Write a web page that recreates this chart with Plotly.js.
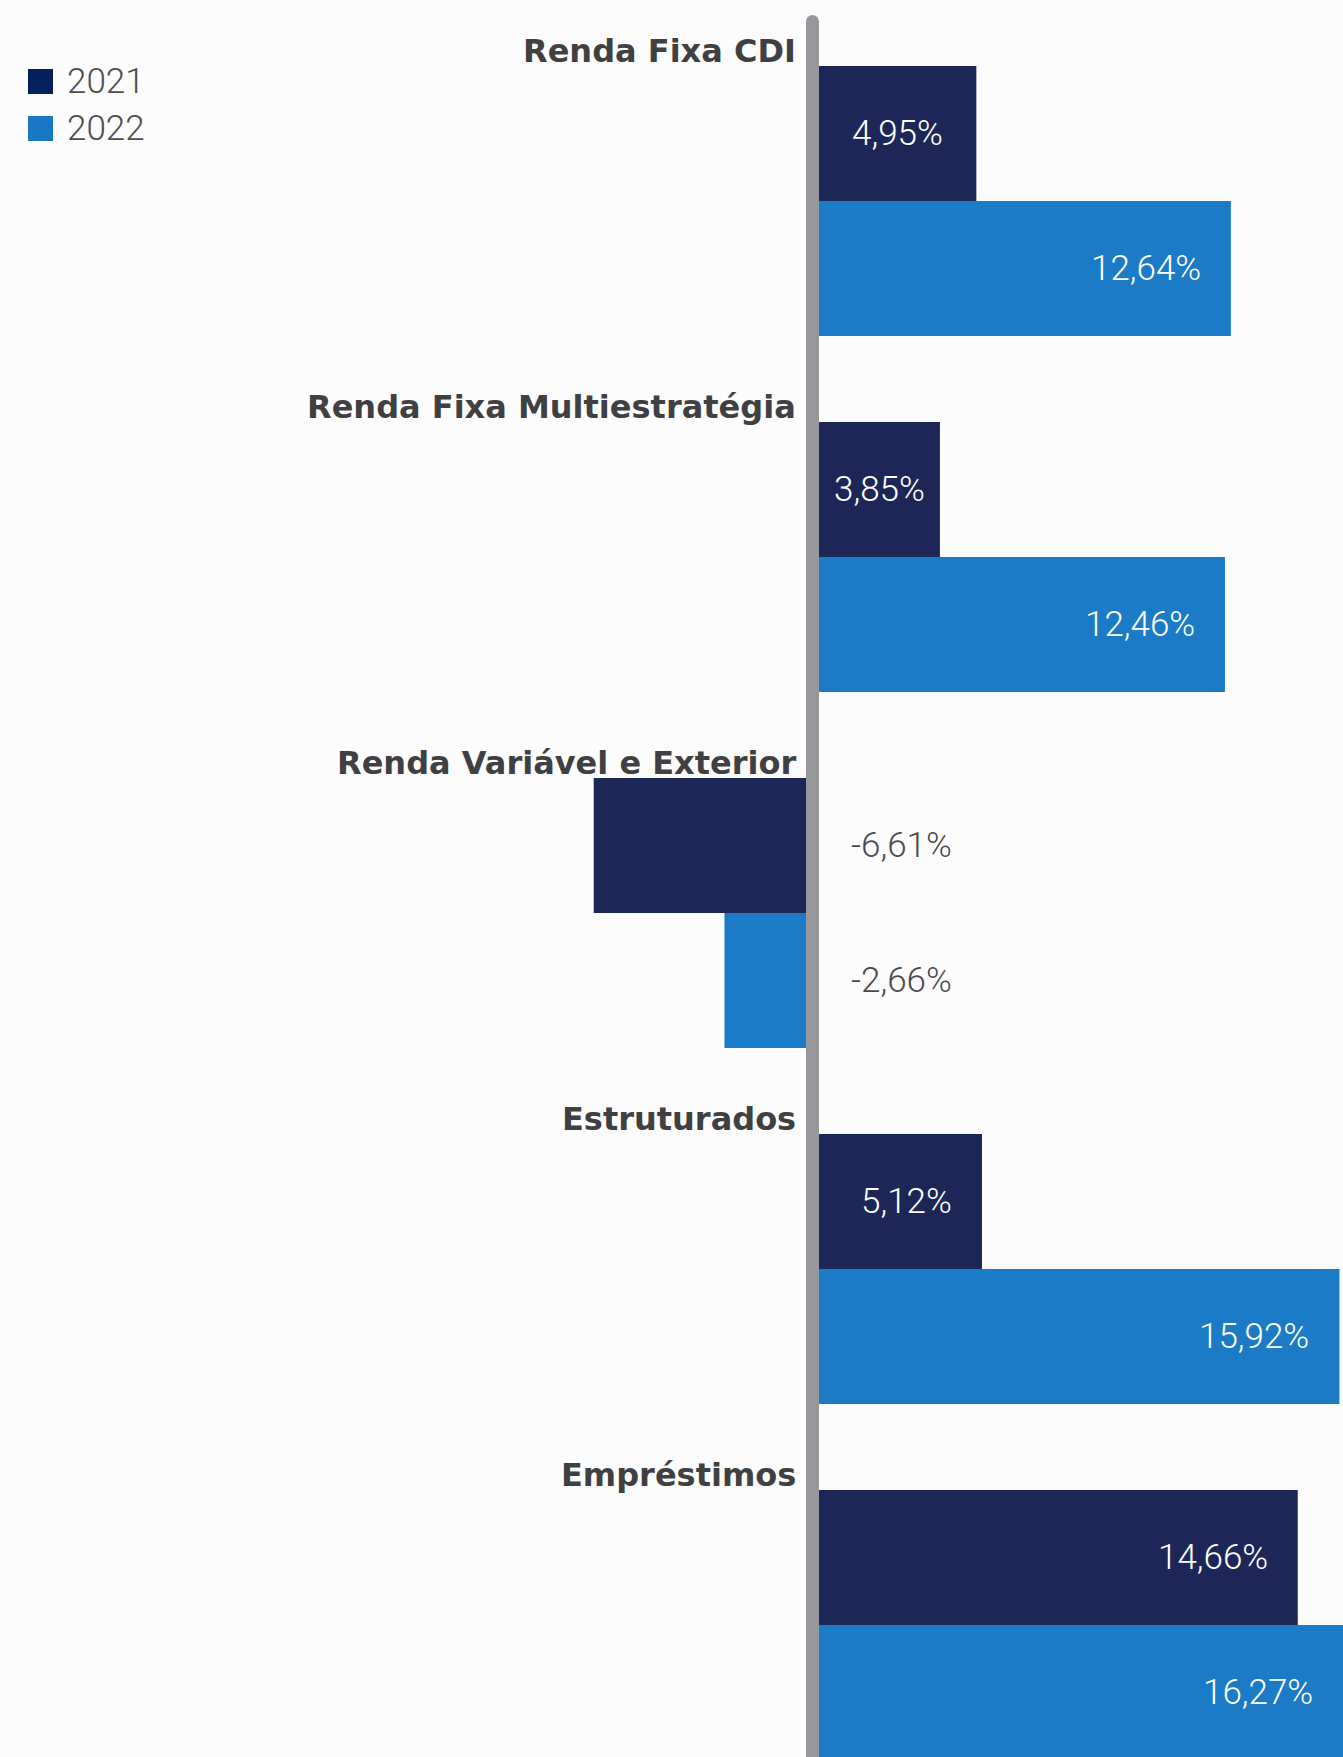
<!DOCTYPE html>
<html>
<head>
<meta charset="utf-8">
<script src="https://cdn.plot.ly/plotly-3.0.1.min.js"></script>
<style>
  html, body { margin: 0; padding: 0; background: #fcfcfc; }
  #chart { width: 1343px; height: 1757px; }
</style>
</head>
<body>
<div id="chart"></div>
<script>
// data
const categories = ['Renda Fixa CDI', 'Renda Fixa Multiestratégia', 'Renda Variável e Exterior', 'Estruturados', 'Empréstimos'];
const years = ['2021', '2022'];
const values2021 = [4.95, 3.85, -6.61, 5.12, 14.66];
const values2022 = [12.64, 12.46, -2.66, 15.92, 16.27];
const yearColors = ['#1d2757', '#1b7bc6'];

// page geometry
const W = 1343, H = 1757;
const zeroPx = 812.5, pxPerUnit = 33.1;
const firstCenterPx = 201, groupPx = 356, barPx = 135;
const axisWidth = 13;
const xMax = (W - zeroPx) / pxPerUnit;

const light = { family: 'Roboto, "Open Sans", sans-serif', weight: 300 };
const fmt = v => v.toFixed(2).replace('.', ',') + '%';

const series = [values2021, values2022];

const traces = series.map((vals, si) => ({
    type: 'bar', orientation: 'h',
    name: years[si],
    y: categories, x: vals,
    marker: { color: yearColors[si], line: { width: 0 } },
    hoverinfo: 'skip', showlegend: false
}));

const annotations = [];

// value labels
series.forEach((vals, si) => {
    const dy = si === 0 ? barPx / 2 : -barPx / 2;
    vals.forEach((v, i) => {
        if (v >= 0) {
            const shortBar = v < 5;
            annotations.push({
                x: shortBar ? v / 2 : Math.min(v, xMax), y: categories[i], xref: 'x', yref: 'y',
                text: fmt(v), showarrow: false,
                xanchor: shortBar ? 'center' : 'right', yanchor: 'middle',
                xshift: shortBar ? axisWidth / 4 : -28, yshift: dy,
                font: Object.assign({ size: 35, color: '#ffffff' }, light)
            });
        } else {
            annotations.push({
                x: 0, y: categories[i], xref: 'x', yref: 'y',
                text: fmt(v), showarrow: false,
                xanchor: 'left', yanchor: 'middle',
                xshift: 36, yshift: dy,
                font: Object.assign({ size: 35, color: '#4a4a4c' }, light)
            });
        }
    });
});

// category labels above each group
categories.forEach(c => {
    annotations.push({
        x: 0, y: c, xref: 'x', yref: 'y',
        text: '<b>' + c + '</b>', showarrow: false,
        xanchor: 'right', yanchor: 'middle',
        xshift: -15, yshift: 150.5,
        font: { family: '"DejaVu Sans", sans-serif', size: 32, color: '#404042' }
    });
});

const shapes = [
    // vertical zero line with a rounded top
    {
        type: 'rect', layer: 'above', xref: 'x', xsizemode: 'pixel', xanchor: 0,
        x0: -axisWidth / 2, x1: axisWidth / 2,
        yref: 'paper', y0: 0, y1: 1 - 21.5 / H,
        fillcolor: '#97989b', line: { width: 0 }
    },
    {
        type: 'circle', layer: 'above', xref: 'x', xsizemode: 'pixel', xanchor: 0,
        x0: -axisWidth / 2, x1: axisWidth / 2,
        yref: 'paper', ysizemode: 'pixel', yanchor: 1 - 21.5 / H,
        y0: -axisWidth / 2, y1: axisWidth / 2,
        fillcolor: '#97989b', line: { width: 0 }
    }
];

// legend, top left
years.forEach((yr, si) => {
    const top = 69 + si * 47;
    shapes.push({
        type: 'rect', xref: 'paper', yref: 'paper',
        x0: 28 / W, x1: 53 / W, y0: 1 - (top + 25) / H, y1: 1 - top / H,
        fillcolor: si === 0 ? '#03215c' : '#1878c6', line: { width: 0 }
    });
    annotations.push({
        x: 65 / W, y: 1 - (top + 12.5) / H, xref: 'paper', yref: 'paper',
        text: yr, showarrow: false, xanchor: 'left', yanchor: 'middle',
        font: Object.assign({ size: 35, color: '#4d4d4f' }, light)
    });
});

const layout = {
    width: W, height: H,
    margin: { l: 0, r: 0, t: 0, b: 0 },
    paper_bgcolor: '#fcfcfc', plot_bgcolor: 'rgba(0,0,0,0)',
    barmode: 'group', bargap: 1 - (2 * barPx) / groupPx, bargroupgap: 0,
    xaxis: {
        range: [-zeroPx / pxPerUnit, xMax],
        visible: false, showgrid: false, zeroline: false, fixedrange: true
    },
    yaxis: {
        type: 'category',
        range: [(H - firstCenterPx) / groupPx, -firstCenterPx / groupPx],
        visible: false, showgrid: false, zeroline: false, fixedrange: true
    },
    showlegend: false,
    annotations: annotations,
    shapes: shapes
};

Plotly.newPlot('chart', traces, layout, { displayModeBar: false, staticPlot: true });
</script>
</body>
</html>
